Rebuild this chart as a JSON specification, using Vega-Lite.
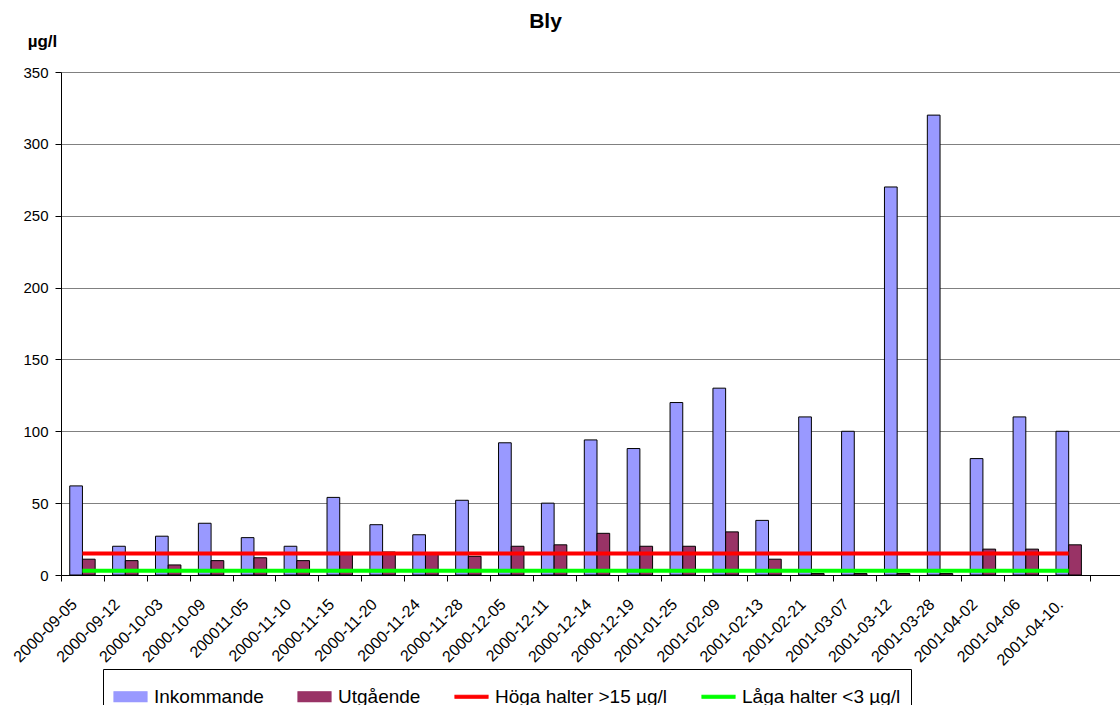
{
  "$schema": "https://vega.github.io/schema/vega-lite/v6.json",
  "autosize": {"type": "none"},
  "width": 1059,
  "height": 503,
  "padding": {"left": 61, "top": 72, "right": 0, "bottom": 130},
  "background": "white",
  "config": {
    "font": "Liberation Sans",
    "view": {"stroke": null}
  },
  "title": {
    "text": "Bly",
    "font": "Liberation Sans",
    "fontSize": 21,
    "fontWeight": "bold",
    "color": "black",
    "anchor": "middle",
    "frame": "group",
    "baseline": "alphabetic",
    "dx": -45,
    "dy": 23,
    "offset": 6
  },
  "data": {
    "values": [
      {"provdatum": "2000-09-05", "Inkommande": 62, "Utgående": 11, "Höga halter >15 µg/l": 15, "Låga halter <3 µg/l": 3},
      {"provdatum": "2000-09-12", "Inkommande": 20, "Utgående": 10, "Höga halter >15 µg/l": 15, "Låga halter <3 µg/l": 3},
      {"provdatum": "2000-10-03", "Inkommande": 27, "Utgående": 7, "Höga halter >15 µg/l": 15, "Låga halter <3 µg/l": 3},
      {"provdatum": "2000-10-09", "Inkommande": 36, "Utgående": 10, "Höga halter >15 µg/l": 15, "Låga halter <3 µg/l": 3},
      {"provdatum": "200011-05", "Inkommande": 26, "Utgående": 12, "Höga halter >15 µg/l": 15, "Låga halter <3 µg/l": 3},
      {"provdatum": "2000-11-10", "Inkommande": 20, "Utgående": 10, "Höga halter >15 µg/l": 15, "Låga halter <3 µg/l": 3},
      {"provdatum": "2000-11-15", "Inkommande": 54, "Utgående": 15, "Höga halter >15 µg/l": 15, "Låga halter <3 µg/l": 3},
      {"provdatum": "2000-11-20", "Inkommande": 35, "Utgående": 16, "Höga halter >15 µg/l": 15, "Låga halter <3 µg/l": 3},
      {"provdatum": "2000-11-24", "Inkommande": 28, "Utgående": 15, "Höga halter >15 µg/l": 15, "Låga halter <3 µg/l": 3},
      {"provdatum": "2000-11-28", "Inkommande": 52, "Utgående": 13, "Höga halter >15 µg/l": 15, "Låga halter <3 µg/l": 3},
      {"provdatum": "2000-12-05", "Inkommande": 92, "Utgående": 20, "Höga halter >15 µg/l": 15, "Låga halter <3 µg/l": 3},
      {"provdatum": "2000-12-11", "Inkommande": 50, "Utgående": 21, "Höga halter >15 µg/l": 15, "Låga halter <3 µg/l": 3},
      {"provdatum": "2000-12-14", "Inkommande": 94, "Utgående": 29, "Höga halter >15 µg/l": 15, "Låga halter <3 µg/l": 3},
      {"provdatum": "2000-12-19", "Inkommande": 88, "Utgående": 20, "Höga halter >15 µg/l": 15, "Låga halter <3 µg/l": 3},
      {"provdatum": "2001-01-25", "Inkommande": 120, "Utgående": 20, "Höga halter >15 µg/l": 15, "Låga halter <3 µg/l": 3},
      {"provdatum": "2001-02-09", "Inkommande": 130, "Utgående": 30, "Höga halter >15 µg/l": 15, "Låga halter <3 µg/l": 3},
      {"provdatum": "2001-02-13", "Inkommande": 38, "Utgående": 11, "Höga halter >15 µg/l": 15, "Låga halter <3 µg/l": 3},
      {"provdatum": "2001-02-21", "Inkommande": 110, "Utgående": 1, "Höga halter >15 µg/l": 15, "Låga halter <3 µg/l": 3},
      {"provdatum": "2001-03-07", "Inkommande": 100, "Utgående": 1, "Höga halter >15 µg/l": 15, "Låga halter <3 µg/l": 3},
      {"provdatum": "2001-03-12", "Inkommande": 270, "Utgående": 1, "Höga halter >15 µg/l": 15, "Låga halter <3 µg/l": 3},
      {"provdatum": "2001-03-28", "Inkommande": 320, "Utgående": 1, "Höga halter >15 µg/l": 15, "Låga halter <3 µg/l": 3},
      {"provdatum": "2001-04-02", "Inkommande": 81, "Utgående": 18, "Höga halter >15 µg/l": 15, "Låga halter <3 µg/l": 3},
      {"provdatum": "2001-04-06", "Inkommande": 110, "Utgående": 18, "Höga halter >15 µg/l": 15, "Låga halter <3 µg/l": 3},
      {"provdatum": "2001-04-10.", "Inkommande": 100, "Utgående": 21, "Höga halter >15 µg/l": 15, "Låga halter <3 µg/l": 3}
    ]
  },
  "encoding": {
    "x": {
      "field": "provdatum",
      "type": "nominal",
      "title": null,
      "scale": {
        "domain": ["2000-09-05", "2000-09-12", "2000-10-03", "2000-10-09", "200011-05", "2000-11-10", "2000-11-15", "2000-11-20", "2000-11-24", "2000-11-28", "2000-12-05", "2000-12-11", "2000-12-14", "2000-12-19", "2001-01-25", "2001-02-09", "2001-02-13", "2001-02-21", "2001-03-07", "2001-03-12", "2001-03-28", "2001-04-02", "2001-04-06", "2001-04-10.", " "],
        "range": [0, 1072],
        "paddingInner": 0,
        "paddingOuter": 0
      },
      "axis": {
        "domainColor": "black",
        "domainWidth": 1,
        "tickColor": "black",
        "tickSize": 6,
        "tickBand": "extent",
        "labelAngle": -45,
        "labelAlign": "right",
        "labelBaseline": "alphabetic",
        "labelFont": "Liberation Sans",
        "labelFontSize": 16,
        "labelColor": "black",
        "labelPadding": 24,
        "labelOffset": -5,
        "labelOverlap": false,
        "labelBound": false,
        "grid": false
      }
    },
    "y": {
      "field": "varde",
      "type": "quantitative",
      "scale": {"domain": [0, 350]},
      "axis": {
        "values": [0, 50, 100, 150, 200, 250, 300, 350],
        "grid": true,
        "gridColor": "#808080",
        "gridWidth": 1,
        "domainColor": "black",
        "tickColor": "black",
        "tickSize": 6,
        "labelFont": "Liberation Sans",
        "labelFontSize": 15,
        "labelColor": "black",
        "labelPadding": 7,
        "title": "µg/l",
        "titleFont": "Liberation Sans",
        "titleFontSize": 17,
        "titleFontWeight": "bold",
        "titleColor": "black",
        "titleAngle": 0,
        "titleAlign": "center",
        "titleBaseline": "alphabetic",
        "titleX": -19,
        "titleY": -26
      }
    },
    "color": {
      "field": "serie",
      "type": "nominal",
      "scale": {
        "domain": ["Inkommande", "Utgående", "Höga halter >15 µg/l", "Låga halter <3 µg/l"],
        "range": ["#9999FF", "#993366", "#FF0000", "#00FF00"]
      },
      "legend": {
        "orient": "none",
        "legendX": 42,
        "legendY": 597,
        "direction": "horizontal",
        "title": null,
        "strokeColor": "black",
        "padding": 10,
        "labelFont": "Liberation Sans",
        "labelFontSize": 19,
        "labelColor": "black",
        "labelLimit": 400,
        "labelOffset": 6,
        "columnPadding": 31,
        "symbolSize": 1089,
        "symbolStrokeWidth": 1.2,
        "encode": {
          "symbols": {
            "update": {
              "shape": {"signal": "indexof(['Inkommande','Utgående'], datum.value) >= 0 ? 'M-1,-0.3H1V0.3H-1Z' : 'M-1,-0.09H1V0.09H-1Z'"},
              "fill": {"scale": "color", "field": "value"},
              "stroke": {"signal": "indexof(['Inkommande','Utgående'], datum.value) >= 0 ? 'black' : scale('color', datum.value)"},
              "opacity": {"value": 1},
              "fillOpacity": {"value": 1},
              "strokeOpacity": {"value": 1}
            }
          }
        }
      }
    }
  },
  "layer": [
    {
      "transform": [{"fold": ["Inkommande", "Utgående"], "as": ["serie", "varde"]}],
      "mark": {"type": "bar", "stroke": "black", "strokeWidth": 1},
      "encoding": {
        "xOffset": {
          "field": "serie",
          "type": "nominal",
          "scale": {"domain": ["Inkommande", "Utgående"], "paddingInner": 0, "paddingOuter": 0.688}
        }
      }
    },
    {
      "transform": [{"fold": ["Höga halter >15 µg/l", "Låga halter <3 µg/l"], "as": ["serie", "varde"]}],
      "mark": {"type": "line", "strokeWidth": 4},
      "encoding": {}
    }
  ]
}
